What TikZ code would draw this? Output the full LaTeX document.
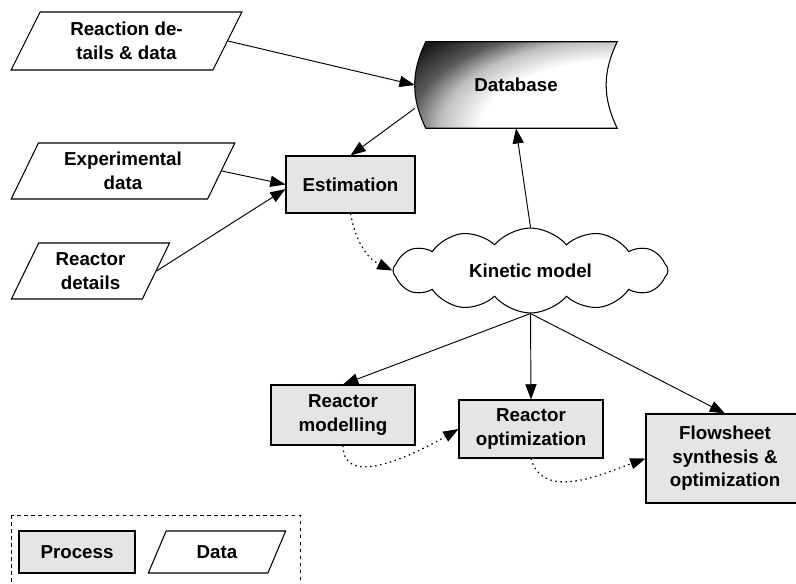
\documentclass[tikz,border=0pt]{standalone}
\usepackage{fontspec}
\setmainfont{Liberation Sans}
\usetikzlibrary{shapes.geometric,shapes.symbols,arrows.meta,backgrounds}
\pgfdeclareradialshading{dbfade}{\pgfpoint{0bp}{0bp}}{color(0bp)=(white); color(13bp)=(white); color(17bp)=(black!25); color(20bp)=(black!65); color(24bp)=(black!90); color(50bp)=(black!90)}

\begin{document}
\begin{tikzpicture}[x=0.03cm, y=0.03cm,
  every node/.style={font=\fontsize{16}{20}\selectfont\bfseries, align=center, inner sep=1pt},
  proc/.style={draw, line width=0.9pt, fill=black!10, rectangle},
  data/.style={draw, line width=0.9pt, fill=white, trapezium, trapezium left angle=64, trapezium right angle=116, trapezium stretches=true},
  flow/.style={line width=0.8pt, -{Triangle[length=13pt,width=9.5pt]}},
  dflow/.style={flow, line width=1pt, dash pattern=on 1.3pt off 3pt}]

\useasboundingbox (0,0) rectangle (796,-583);
\clip (0,0) rectangle (796,-583);


\node [data, minimum width=6.93cm, minimum height=1.74cm] (rd) at (126.5,-41) {Reaction de-\\tails \& data};
\node [data, minimum width=6.72cm, minimum height=1.68cm] (ed) at (123,-171) {Experimental\\data};
\node [data, minimum width=4.77cm, minimum height=1.68cm] (rdt) at (90.5,-271) {Reactor\\details};

\node [minimum width=6.06cm, minimum height=2.58cm, inner sep=0pt] (db) at (516,-85) {Database};
\begin{pgfonlayer}{background}
\draw [line width=0.9pt, path picture={\shade[shading=dbfade] (617,-128) ellipse (260 and 130);}]
  ([xshift=0.33cm]db.north west) -- (db.north east) to[bend right=26] (db.south east)
  -- ([xshift=0.33cm]db.south west) to[bend left=26] ([xshift=0.33cm]db.north west) -- cycle;
\end{pgfonlayer}

\node [proc, minimum width=3.87cm, minimum height=1.71cm] (est) at (350.5,-184.5) {Estimation};
\node [cloud, draw, fill=white, line width=0.9pt, cloud puffs=12, cloud puff arc=100, aspect=3.2,
  minimum width=8.25cm, minimum height=2.55cm, inner sep=0pt] (km) at (530.5,-270.5) {Kinetic model};

\node [proc, minimum width=4.32cm, minimum height=1.8cm] (rm) at (343,-415) {Reactor\\modelling};
\node [proc, minimum width=4.32cm, minimum height=1.74cm] (ro) at (531,-429) {Reactor\\optimization};
\node [proc, minimum width=4.74cm, minimum height=2.67cm] (fs) at (725,-458.5) {Flowsheet\\synthesis \&\\optimization};



\draw [flow] (rd.east) -- (db.west);
\draw [flow] (db.193) -- (est.north);
\draw [flow] (ed.east) -- (est.west);
\draw [flow] (rdt.east) -- (est.184);
\draw [flow] (km.north) -- (db.south);

\draw [flow] (km.south) -- (rm.north);
\draw [flow] (km.south) -- (ro.north);
\draw [flow] (km.south) -- (fs.north);

\draw [dflow] (est.south) to[out=-80, in=155] (km.west);
\draw [dflow] (rm.south) to[out=-90, in=210] (ro.west);
\draw [dflow] (ro.south) to[out=-75, in=200] (fs.west);


\draw [dashed, line width=0.8pt] (11,-515) rectangle (300,-600);
\node [proc, minimum width=3.48cm, minimum height=1.26cm] (lp) at (77,-552) {Process};
\node [data, minimum width=4.14cm, minimum height=1.26cm] (ld) at (217,-552) {Data};

\end{tikzpicture}
\end{document}
